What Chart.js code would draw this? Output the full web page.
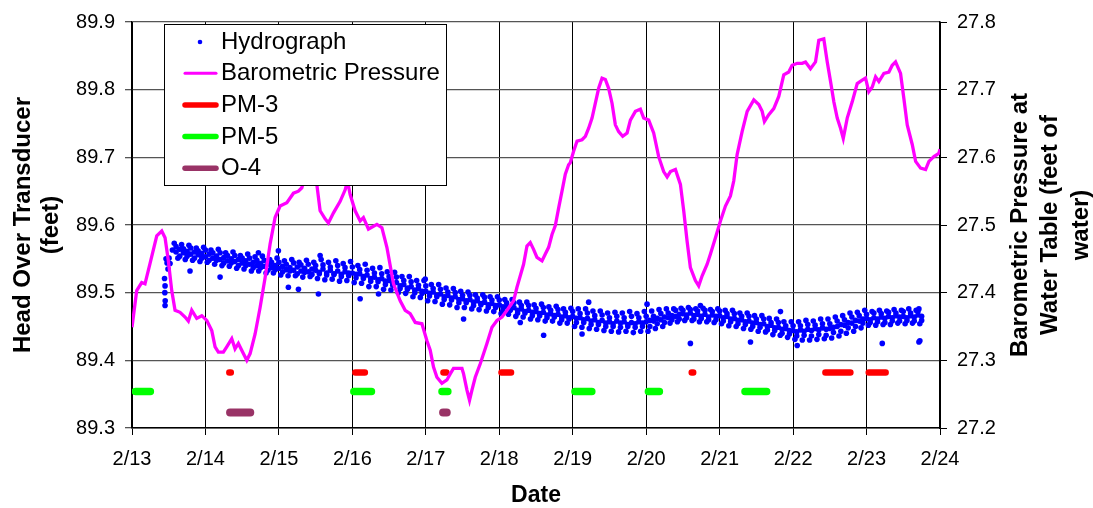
<!DOCTYPE html>
<html><head><meta charset="utf-8">
<script src="https://cdn.jsdelivr.net/npm/chart.js@4.4.1/dist/chart.umd.min.js"></script>
<style>html,body{margin:0;padding:0;background:#fff;}</style>
</head><body>
<canvas id="c" width="1093" height="508"></canvas>
<script>
// ---------- DATA ----------
const dateLabels = ['2/13','2/14','2/15','2/16','2/17','2/18','2/19','2/20','2/21','2/22','2/23','2/24'];
const leftTicks = [89.3, 89.4, 89.5, 89.6, 89.7, 89.8, 89.9];
const rightTicks = [27.2, 27.3, 27.4, 27.5, 27.6, 27.7, 27.8];

// Barometric pressure (feet of water), x = days since 2/13 00:00
const baroDays = [0.000,0.064,0.132,0.177,0.245,0.337,0.405,0.450,0.495,0.541,0.586,0.654,0.722,0.767,0.813,0.881,0.950,1.018,1.086,1.131,1.176,1.244,1.290,1.358,1.403,1.448,1.516,1.563,1.608,1.676,1.744,1.812,1.880,1.948,2.016,2.108,2.198,2.266,2.312,2.371,2.439,2.480,2.516,2.561,2.629,2.674,2.743,2.834,2.902,2.933,2.970,3.038,3.106,3.151,3.219,3.334,3.402,3.470,3.560,3.651,3.719,3.787,3.856,3.947,4.015,4.060,4.105,4.151,4.219,4.287,4.332,4.377,4.492,4.514,4.560,4.595,4.628,4.673,4.741,4.832,4.901,4.969,5.037,5.105,5.195,5.241,5.286,5.331,5.377,5.422,5.467,5.513,5.582,5.627,5.672,5.718,5.763,5.808,5.854,5.899,5.944,5.967,6.012,6.059,6.127,6.172,6.217,6.263,6.308,6.353,6.399,6.444,6.489,6.535,6.580,6.625,6.680,6.740,6.785,6.853,6.921,6.966,7.034,7.102,7.170,7.238,7.285,7.330,7.398,7.466,7.511,7.557,7.602,7.670,7.715,7.762,7.830,7.875,7.943,8.011,8.079,8.147,8.192,8.238,8.306,8.375,8.465,8.533,8.579,8.610,8.669,8.737,8.805,8.873,8.941,8.987,9.056,9.124,9.169,9.237,9.305,9.350,9.418,9.465,9.510,9.555,9.601,9.646,9.683,9.737,9.805,9.873,9.941,9.986,10.031,10.078,10.123,10.168,10.236,10.304,10.350,10.395,10.463,10.508,10.554,10.622,10.668,10.736,10.804,10.849,10.917,10.985,11.000];
const baroVals = [27.349,27.403,27.415,27.413,27.443,27.484,27.491,27.481,27.447,27.403,27.374,27.371,27.364,27.358,27.374,27.362,27.366,27.359,27.344,27.320,27.312,27.312,27.320,27.332,27.317,27.325,27.310,27.300,27.310,27.339,27.378,27.422,27.472,27.511,27.528,27.533,27.547,27.550,27.555,27.579,27.594,27.579,27.560,27.521,27.509,27.503,27.518,27.535,27.552,27.565,27.545,27.521,27.506,27.511,27.494,27.501,27.496,27.467,27.413,27.388,27.374,27.369,27.356,27.354,27.329,27.315,27.290,27.275,27.266,27.271,27.280,27.288,27.288,27.280,27.256,27.241,27.256,27.275,27.295,27.325,27.349,27.359,27.364,27.374,27.388,27.408,27.425,27.442,27.469,27.474,27.464,27.452,27.447,27.457,27.467,27.486,27.499,27.525,27.550,27.575,27.589,27.592,27.609,27.624,27.626,27.631,27.643,27.658,27.680,27.702,27.717,27.715,27.702,27.680,27.648,27.638,27.631,27.636,27.655,27.668,27.671,27.658,27.655,27.636,27.601,27.579,27.571,27.579,27.582,27.560,27.521,27.476,27.437,27.418,27.410,27.425,27.442,27.457,27.481,27.506,27.528,27.543,27.565,27.604,27.638,27.668,27.685,27.678,27.668,27.653,27.663,27.672,27.690,27.722,27.726,27.736,27.739,27.739,27.741,27.731,27.741,27.773,27.775,27.741,27.712,27.682,27.658,27.643,27.628,27.658,27.682,27.709,27.714,27.717,27.697,27.704,27.719,27.712,27.724,27.726,27.736,27.741,27.724,27.687,27.648,27.619,27.594,27.584,27.582,27.594,27.601,27.606,27.612];

// Hydrograph (head over transducer, feet): central readings every 0.05 day from 2/13 + 0.55 d
const hydroStart = 0.55, hydroStep = 0.05;
const hydroMid = [89.563,89.560,89.564,89.559,89.561,89.557,89.560,89.556,89.558,
89.553,89.557,89.551,89.554,89.549,89.552,89.547,89.550,89.546,89.549,
89.544,89.547,89.542,89.545,89.540,89.543,89.539,89.542,89.537,89.540,
89.536,89.539,89.534,89.537,89.533,89.538,89.532,89.536,89.531,89.535,
89.533,89.530,89.535,89.529,89.533,89.528,89.532,89.527,89.531,89.529,
89.529,89.527,89.528,89.524,89.526,89.521,89.523,89.519,89.521,89.517,
89.518,89.514,89.515,89.510,89.512,89.507,89.509,89.504,89.506,89.502,
89.502,89.499,89.501,89.496,89.498,89.494,89.496,89.492,89.494,89.490,
89.491,89.488,89.490,89.486,89.488,89.484,89.486,89.482,89.484,89.481,
89.482,89.479,89.480,89.476,89.478,89.474,89.476,89.472,89.474,89.471,
89.472,89.469,89.471,89.467,89.469,89.466,89.468,89.464,89.466,89.463,
89.465,89.462,89.463,89.460,89.462,89.458,89.460,89.456,89.459,89.455,
89.457,89.454,89.458,89.455,89.457,89.453,89.456,89.454,89.457,89.455,
89.457,89.459,89.458,89.462,89.460,89.464,89.463,89.466,89.465,89.468,
89.469,89.467,89.470,89.466,89.468,89.465,89.468,89.464,89.467,89.465,
89.466,89.463,89.465,89.461,89.462,89.459,89.460,89.457,89.458,89.455,
89.456,89.453,89.454,89.450,89.452,89.448,89.449,89.446,89.447,89.444,
89.444,89.442,89.445,89.443,89.446,89.444,89.447,89.445,89.448,89.446,
89.447,89.449,89.450,89.453,89.452,89.456,89.455,89.459,89.458,89.461,
89.462,89.460,89.463,89.461,89.464,89.462,89.465,89.463,89.466,89.464,
89.465,89.463,89.466,89.464,89.467,89.465];
// further readings every 0.1 day: upper edge (from 0.575 d), upper-middle (from 0.60 d),
// lower-middle (from 0.65 d), lower edge (from 0.625 d)
const hydroRowStep = 0.1;
const hydroHiStart = 0.575, hydroUpStart = 0.60, hydroDnStart = 0.65, hydroLoStart = 0.625;
const hydroHi = [89.573,89.571,89.570,89.566,89.567,89.563,89.564,89.559,89.560,89.555,
89.557,89.553,89.554,89.549,89.551,89.547,89.549,89.545,89.548,89.545,
89.549,89.545,89.547,89.543,89.546,89.540,89.542,89.536,89.537,89.531,
89.530,89.524,89.524,89.518,89.518,89.512,89.512,89.507,89.506,89.502,
89.501,89.497,89.497,89.494,89.494,89.490,89.490,89.486,89.486,89.482,
89.483,89.479,89.480,89.476,89.477,89.476,89.476,89.473,89.473,89.470,
89.471,89.470,89.472,89.469,89.472,89.473,89.475,89.476,89.476,89.477,
89.478,89.476,89.477,89.475,89.476,89.474,89.474,89.470,89.470,89.466,
89.466,89.462,89.461,89.457,89.457,89.457,89.459,89.458,89.461,89.461,
89.464,89.466,89.470,89.471,89.474,89.472,89.474,89.473,89.475,89.474,
89.476,89.474];
const hydroUp = [89.568,89.565,89.566,89.562,89.563,89.559,89.559,89.555,89.555,89.551,
89.551,89.548,89.548,89.545,89.545,89.542,89.544,89.541,89.542,89.540,
89.541,89.538,89.540,89.537,89.538,89.534,89.533,89.529,89.528,89.524,
89.523,89.518,89.516,89.511,89.510,89.506,89.505,89.501,89.500,89.496,
89.496,89.492,89.493,89.489,89.489,89.485,89.485,89.481,89.481,89.477,
89.478,89.474,89.475,89.471,89.472,89.469,89.470,89.466,89.467,89.463,
89.465,89.463,89.465,89.463,89.465,89.465,89.469,89.470,89.474,89.474,
89.475,89.473,89.474,89.472,89.473,89.469,89.469,89.465,89.465,89.461,
89.461,89.456,89.456,89.451,89.451,89.451,89.453,89.452,89.454,89.454,
89.458,89.460,89.464,89.466,89.468,89.470,89.469,89.471,89.470,89.472,
89.470,89.472];
const hydroDn = [89.554,89.554,89.551,89.551,89.548,89.548,89.544,89.544,89.540,89.540,
89.537,89.537,89.533,89.534,89.531,89.532,89.528,89.530,89.527,89.528,
89.526,89.527,89.524,89.525,89.522,89.521,89.517,89.516,89.512,89.511,
89.506,89.505,89.500,89.499,89.495,89.494,89.490,89.489,89.485,89.485,
89.481,89.482,89.478,89.478,89.474,89.474,89.470,89.470,89.466,89.466,
89.463,89.464,89.460,89.461,89.456,89.456,89.453,89.453,89.450,89.450,
89.449,89.450,89.449,89.450,89.450,89.454,89.456,89.460,89.461,89.463,
89.461,89.462,89.460,89.460,89.458,89.457,89.454,89.453,89.450,89.449,
89.445,89.444,89.440,89.439,89.436,89.437,89.436,89.438,89.437,89.441,
89.443,89.448,89.450,89.455,89.456,89.457,89.456,89.458,89.458,89.459,
89.458,89.459];
const hydroLo = [89.551,89.549,89.548,89.546,89.545,89.542,89.540,89.539,89.536,89.535,
89.532,89.532,89.529,89.529,89.526,89.525,89.525,89.523,89.524,89.521,
89.519,89.520,89.517,89.518,89.515,89.514,89.509,89.509,89.505,89.504,
89.500,89.499,89.494,89.493,89.488,89.487,89.483,89.482,89.478,89.478,
89.476,89.475,89.473,89.472,89.469,89.468,89.465,89.464,89.461,89.460,
89.458,89.458,89.455,89.455,89.450,89.449,89.447,89.446,89.444,89.443,
89.442,89.443,89.441,89.443,89.443,89.447,89.450,89.455,89.457,89.459,
89.459,89.457,89.457,89.456,89.454,89.451,89.450,89.447,89.446,89.443,
89.442,89.438,89.437,89.434,89.431,89.430,89.430,89.431,89.432,89.433,
89.436,89.440,89.443,89.448,89.452,89.452,89.453,89.453,89.455,89.454,
89.455,89.454];
// scattered readings [day, feet]
const hydroScatter = [[0.443,89.521],[0.450,89.510],[0.447,89.500],[0.452,89.488],[0.450,89.481],[0.463,89.550],[0.477,89.544],[0.490,89.535],[0.504,89.551],[0.518,89.543],
[0.790,89.532],[1.199,89.523],[1.721,89.559],[1.993,89.562],[2.129,89.508],[2.266,89.505],[2.538,89.498],[2.561,89.555],[3.106,89.491],[3.356,89.498],[3.992,89.520],[4.514,89.461],[5.286,89.456],[5.604,89.437],[6.217,89.486],[6.127,89.439],[7.012,89.483],[7.602,89.425],[7.738,89.481],[8.420,89.427],[8.828,89.472],[9.056,89.422],[10.214,89.425],[10.713,89.427],[10.726,89.429],[10.713,89.476]];

// Pumping events: [start day, end day] and plotting level (left-axis feet)
const pm3Segments = [[1.325,1.345],[3.04,3.17],[4.24,4.28],[5.03,5.16],[7.62,7.64],[9.44,9.78],[10.03,10.26]];
const pm5Segments = [[0.045,0.25],[3.02,3.26],[4.22,4.30],[6.03,6.26],[7.03,7.18],[8.345,8.64]];
const o4Segments  = [[1.335,1.61],[4.235,4.285]];
const pm3Level = 89.382, pm5Level = 89.354, o4Level = 89.323;

const leftTitle = ['Head Over Transducer', '(feet)'];
const rightTitle = ['Barometric Pressure at', 'Water Table (feet of', 'water)'];
const xTitle = 'Date';

// ---------- BUILD ----------
const FONT = "'Liberation Sans', Arial, Helvetica, sans-serif";
function segPoints(segs, level) {
  const out = [];
  segs.forEach(s => { out.push({x:s[0], y:level}); out.push({x:s[1], y:level}); out.push({x:(s[1]+0.001), y:null}); });
  return out;
}
const hydroPts = [];
hydroMid.forEach((v,i) => hydroPts.push({x: hydroStart + i*hydroStep, y: v}));
hydroHi.forEach((v,i) => hydroPts.push({x: hydroHiStart + i*hydroRowStep, y: v}));
hydroUp.forEach((v,i) => hydroPts.push({x: hydroUpStart + i*hydroRowStep, y: v}));
hydroDn.forEach((v,i) => hydroPts.push({x: hydroDnStart + i*hydroRowStep, y: v}));
hydroLo.forEach((v,i) => hydroPts.push({x: hydroLoStart + i*hydroRowStep, y: v}));
hydroScatter.forEach(p => hydroPts.push({x: p[0], y: p[1]}));

const legendPlugin = {
  id: 'insideLegend',
  afterDraw(chart) {
    const ctx = chart.ctx;
    const ca = chart.chartArea;
    ctx.save();
    const bx = ca.left + 32, by = ca.top + 2, bw = 282, bh = 161;
    ctx.fillStyle = '#fff';
    ctx.fillRect(bx, by, bw, bh);
    ctx.strokeStyle = '#000';
    ctx.lineWidth = 1;
    ctx.strokeRect(bx + 0.5, by + 0.5, bw, bh);
    ctx.font = '24px ' + FONT;
    ctx.textBaseline = 'middle';
    ctx.textAlign = 'left';
    chart.data.datasets.forEach((ds, i) => {
      const cy = by + 17.5 + i * 31.7;
      if (ds.legendKind === 'dot') {
        ctx.fillStyle = ds.backgroundColor;
        ctx.beginPath(); ctx.arc(bx + 36, cy + 0.5, 2.3, 0, Math.PI*2); ctx.fill();
      } else {
        ctx.strokeStyle = ds.borderColor;
        ctx.lineWidth = ds.legendKind === 'thin' ? 3 : 5.5;
        ctx.lineCap = 'round';
        ctx.beginPath(); ctx.moveTo(bx + 21, cy); ctx.lineTo(bx + 52, cy); ctx.stroke();
      }
      ctx.fillStyle = '#000';
      ctx.fillText(ds.label, bx + 57, cy + 0.5);
    });
    const ys = chart.scales.y2;
    ctx.font = 'bold 24px ' + FONT;
    ctx.textAlign = 'center';
    ctx.fillStyle = '#000';
    const cyT = (ca.top + ca.bottom) / 2;
    rightTitle.forEach((t, i) => {
      ctx.save();
      ctx.translate(ys.left + 80 + i * 30.8, cyT);
      ctx.rotate(-Math.PI / 2);
      ctx.fillText(t, 0, 0);
      ctx.restore();
    });
    ctx.restore();
  }
};

new Chart(document.getElementById('c'), {
  type: 'scatter',
  data: {
    datasets: [
      { label: 'Hydrograph', legendKind: 'dot', data: hydroPts, yAxisID: 'y', backgroundColor: '#0000FF', borderColor: '#0000FF', borderWidth: 0, pointRadius: 2.8, order: 1 },
      { label: 'Barometric Pressure', legendKind: 'thin', data: baroDays.map((d,i) => ({x:d, y:baroVals[i]})), yAxisID: 'y2', showLine: true, borderColor: '#FF00FF', backgroundColor: '#FF00FF', borderWidth: 3.3, pointRadius: 0, tension: 0, order: 0 },
      { label: 'PM-3', legendKind: 'thick', data: segPoints(pm3Segments, pm3Level), yAxisID: 'y', showLine: true, spanGaps: false, borderColor: '#FF0000', borderWidth: 6.5, borderCapStyle: 'round', pointRadius: 0, order: 2 },
      { label: 'PM-5', legendKind: 'thick', data: segPoints(pm5Segments, pm5Level), yAxisID: 'y', showLine: true, spanGaps: false, borderColor: '#00FF00', borderWidth: 7.5, borderCapStyle: 'round', pointRadius: 0, order: 2 },
      { label: 'O-4', legendKind: 'thick', data: segPoints(o4Segments, o4Level), yAxisID: 'y', showLine: true, spanGaps: false, borderColor: '#993366', borderWidth: 8, borderCapStyle: 'round', pointRadius: 0, order: 2 }
    ]
  },
  options: {
    responsive: false,
    animation: false,
    devicePixelRatio: 1,
    layout: { padding: { top: 20, left: 0, right: 0, bottom: 0 } },
    plugins: { legend: { display: false }, tooltip: { enabled: false } },
    scales: {
      x: {
        type: 'linear', position: 'bottom', min: 0, max: dateLabels.length - 1,
        ticks: { stepSize: 1, autoSkip: false, maxRotation: 0, color: '#000', padding: 12, font: { size: 20, family: FONT },
          callback: v => dateLabels[Math.round(v)] },
        grid: { color: '#000', lineWidth: 1, tickLength: 7, drawTicks: true },
        border: { color: '#000', width: 1.5 },
        title: { display: true, text: xTitle, color: '#000', font: { size: 23, weight: 'bold', family: FONT, lineHeight: 1 }, padding: { top: 0, bottom: 0.5 } },
        afterFit: s => { s.height = 80; }
      },
      y: {
        type: 'linear', position: 'left', min: leftTicks[0], max: leftTicks[leftTicks.length-1],
        ticks: { stepSize: 0.1, color: '#000', padding: 10, font: { size: 20, family: FONT }, callback: v => Number(v).toFixed(1) },
        grid: { color: '#555', lineWidth: 1.3, tickLength: 7 },
        border: { color: '#000', width: 1.5 },
        title: { display: true, text: leftTitle, color: '#000', font: { size: 24, weight: 'bold', family: FONT, lineHeight: 1.15 }, padding: { top: 9.5 } },
        afterFit: s => { s.width = 132; }
      },
      y2: {
        type: 'linear', position: 'right', min: rightTicks[0], max: rightTicks[rightTicks.length-1],
        ticks: { stepSize: 0.1, color: '#000', padding: 10, font: { size: 20, family: FONT }, callback: v => Number(v).toFixed(1) },
        grid: { drawOnChartArea: false, color: '#000', tickLength: 7 },
        border: { color: '#000', width: 1.5 },
        afterFit: s => { s.width = 153; }
      }
    }
  },
  plugins: [legendPlugin]
});
</script>
</body></html>
